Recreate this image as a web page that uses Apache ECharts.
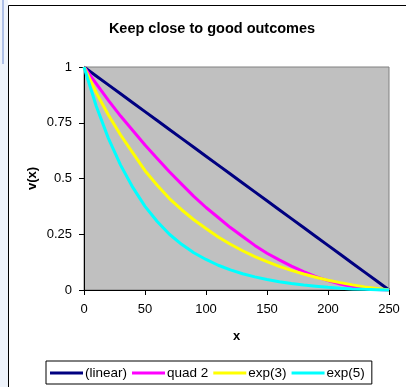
<!DOCTYPE html>
<html>
<head>
<meta charset="utf-8">
<script src="https://cdn.jsdelivr.net/npm/echarts@6/dist/echarts.min.js"></script>
<style>
html,body{margin:0;padding:0;background:#fff;}
#c{width:406px;height:387px;}
</style>
</head>
<body>
<div id="c"></div>
<script>
var xValues = [0,10,20,30,40,50,60,70,80,90,100,110,120,130,140,150,160,170,180,190,200,210,220,230,240,250];
var linearVals = [1,0.96,0.92,0.88,0.84,0.8,0.76,0.72,0.68,0.64,0.6,0.56,0.52,0.48,0.44,0.4,0.36,0.32,0.28,0.24,0.2,0.16,0.12,0.08,0.04,0];
var quadVals = [1,0.925,0.85,0.78,0.715,0.65,0.59,0.53,0.475,0.42,0.37,0.325,0.28,0.24,0.2,0.165,0.135,0.107,0.082,0.06,0.042,0.027,0.015,0.007,0.002,0];
var exp3Vals = [1,0.885,0.785,0.695,0.615,0.535,0.47,0.41,0.36,0.315,0.276,0.238,0.205,0.176,0.15,0.127,0.106,0.088,0.072,0.057,0.044,0.033,0.023,0.014,0.007,0];
var exp5Vals = [1,0.825,0.68,0.56,0.46,0.375,0.307,0.25,0.205,0.167,0.137,0.111,0.09,0.073,0.059,0.047,0.037,0.029,0.022,0.017,0.012,0.008,0.005,0.003,0.0015,0];
var seriesNames = ['(linear)','quad 2','exp(3)','exp(5)'];
var seriesColors = ['#000080','#FF00FF','#FFFF00','#00FFFF'];
var xTicks = [0,50,100,150,200,250];
var yTicks = [0,0.25,0.5,0.75,1];

function pairs(vals){ return xValues.map(function(x,i){ return [x, vals[i]]; }); }
var allVals = [linearVals, quadVals, exp3Vals, exp5Vals];
var FONT = 'Liberation Sans, Arial, sans-serif';

var chart = echarts.init(document.getElementById('c'), null, {renderer:'canvas'});
chart.setOption({
  animation:false,
  backgroundColor:'#fff',
  textStyle:{fontFamily:FONT, color:'#000'},
  title:{
    text:'Keep close to good outcomes',
    left:207, top:16, textAlign:'center',
    textStyle:{fontFamily:FONT, fontSize:14.5, fontWeight:'bold', color:'#000'}
  },
  graphic:[
    {type:'rect', shape:{x:0,y:0,width:8,height:387}, style:{fill:'#eef3fb'}, silent:true, z:-10},
    {type:'rect', shape:{x:2,y:0,width:2,height:64}, style:{fill:'#aebfe6'}, silent:true, z:-9},
    {type:'rect', shape:{x:8.5,y:5.5,width:420,height:400}, style:{fill:'none', stroke:'#000', lineWidth:1}, silent:true, z:-5}
  ],
  grid:{left:84, right:17, top:67, bottom:97, show:true, backgroundColor:'#C0C0C0', borderColor:'#808080', borderWidth:1},
  xAxis:{
    type:'value', min:0, max:250, interval:50,
    name:'x', nameLocation:'middle', nameGap:40, nameMoveOverlap:false,
    nameTextStyle:{fontFamily:FONT, fontSize:13, fontWeight:'bold', color:'#000'},
    axisLine:{show:true, lineStyle:{color:'#000', width:1}},
    axisTick:{show:true, length:5, inside:false, lineStyle:{color:'#000'}},
    axisLabel:{fontFamily:FONT, fontSize:13, color:'#000', margin:13,
      formatter:function(v){ return xTicks.indexOf(v)>=0 ? String(v) : ''; }},
    splitLine:{show:false}
  },
  yAxis:{
    type:'value', min:0, max:1, interval:0.25,
    name:'v(x)', nameLocation:'middle', nameGap:45, nameRotate:90, nameMoveOverlap:false,
    nameTextStyle:{fontFamily:FONT, fontSize:13, fontWeight:'bold', color:'#000'},
    axisLine:{show:true, lineStyle:{color:'#000', width:1}},
    axisTick:{show:true, length:5, inside:false, lineStyle:{color:'#000'}},
    axisLabel:{fontFamily:FONT, fontSize:13, color:'#000', margin:12,
      formatter:function(v){ return yTicks.indexOf(v)>=0 ? String(v) : ''; }},
    splitLine:{show:false}
  },
  legend:{
    left:46, top:361, orient:'horizontal',
    backgroundColor:'#fff', borderColor:'#000', borderWidth:1,
    padding:[5,7,4,4], itemGap:5, itemWidth:33, itemHeight:3,
    icon:'rect',
    textStyle:{fontFamily:FONT, fontSize:13.5, color:'#000', padding:[0,0,0,-3]},
    data:seriesNames
  },
  series: seriesNames.map(function(n,i){
    return {
      name:n, type:'line', data:pairs(allVals[i]),
      showSymbol:false, symbol:'none', smooth:false, clip:false,
      lineStyle:{color:seriesColors[i], width:3},
      itemStyle:{color:seriesColors[i]},
      z:10+i
    };
  })
});
</script>
</body>
</html>
